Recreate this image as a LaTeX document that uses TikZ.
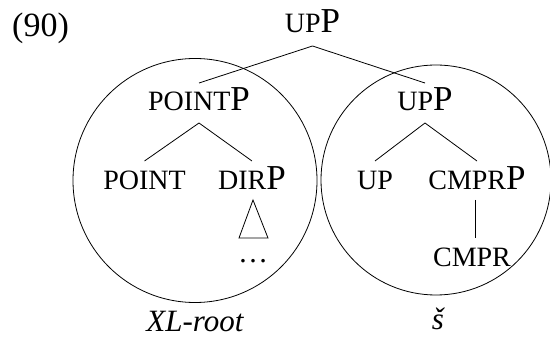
\documentclass[tikz,border=0pt]{standalone}
\usepackage{fontspec}
\setmainfont{Liberation Serif}
\newcommand{\fsc}[1]{{\fontsize{28}{30}\selectfont #1}}
\tikzset{
  lbl/.style={anchor=base, inner sep=0pt, font=\fontsize{35}{38}\selectfont},
  caplabel/.style={anchor=base, inner sep=0pt, font=\fontsize{31}{34}\selectfont\itshape},
  br/.style={line width=0.8pt},
  ring/.style={line width=0.8pt},
}
\begin{document}
\begin{tikzpicture}[x=1pt,y=-1pt]
\useasboundingbox (0,0) rectangle (550,339);
\node[anchor=base west, inner sep=0pt, font=\fontsize{34}{36}\selectfont] (ex) at (12,37) {(90)};
% circles
\draw[ring] (195,180.5) circle[radius=122];
\draw[ring] (436,180) circle[radius=115];
% nodes
\node[lbl] (top) at (312.5,33) {\fsc{UP}P};
\node[lbl] (pointp) at (199,111) {\fsc{POINT}P};
\node[lbl] (upp) at (425,111) {\fsc{UP}P};
\node[lbl] (point) at (144.5,190) {\fsc{POINT}};
\node[lbl] (dirp) at (252,190) {\fsc{DIR}P};
\node[lbl] (up) at (375,190) {\fsc{UP}};
\node[lbl] (cmprp) at (477,190) {\fsc{CMPR}P};
\node[lbl] (cmpr) at (472,267) {\fsc{CMPR}};
\node[anchor=center, inner sep=0pt, font=\fontsize{30}{32}\selectfont] (dots) at (253,261) {\dots};
\node[caplabel] (xl) at (195,332) {XL-root};
\node[caplabel] (s) at (438,330) {š};
% branches
\draw[br] ([yshift=-13pt]top.base) -- ([yshift=28pt]pointp.base);
\draw[br] ([yshift=-13pt]top.base) -- ([yshift=28pt]upp.base);
\draw[br] ([yshift=-12pt]pointp.base) -- ([yshift=29pt]point.base);
\draw[br] ([yshift=-12pt]pointp.base) -- ([yshift=29pt]dirp.base);
\draw[br] ([yshift=-12pt]upp.base) -- ([yshift=29pt]up.base);
\draw[br] ([yshift=-12pt]upp.base) -- ([yshift=29pt]cmprp.base);
\draw[br] ([xshift=-2pt,yshift=-10pt]cmprp.base) -- ([xshift=3pt,yshift=29pt]cmpr.base);
% triangle
\draw[br] ([xshift=1pt,yshift=-10pt]dirp.base) -- ++(-14,38) -- ++(29,0) -- cycle;
\end{tikzpicture}
\end{document}
